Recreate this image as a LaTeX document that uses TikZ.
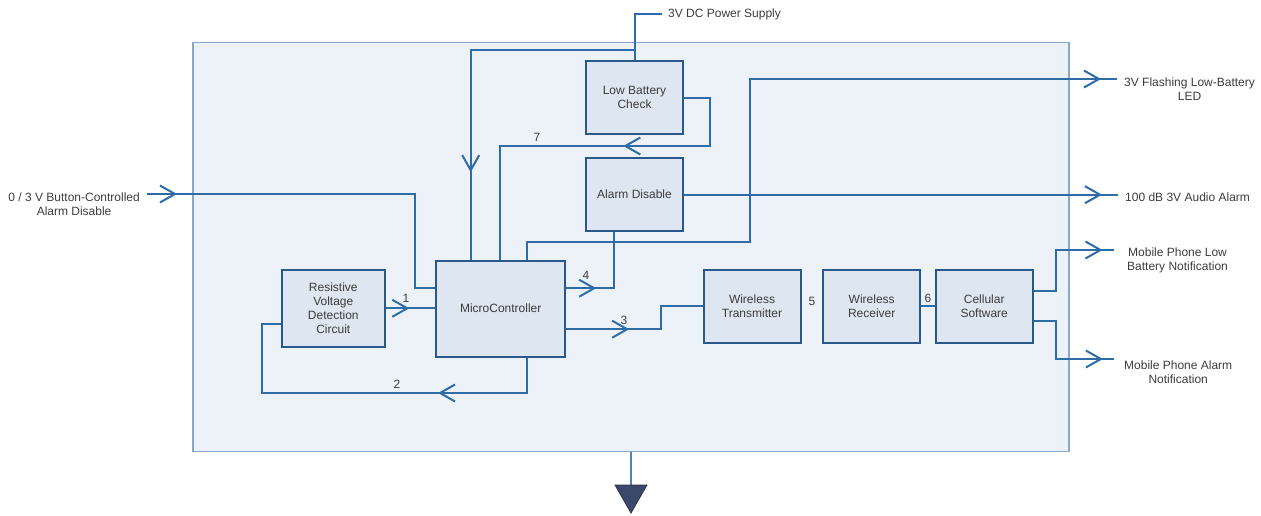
\documentclass[tikz,border=0pt]{standalone}
\usepackage{fontspec}
\setmainfont{Liberation Sans}
\usetikzlibrary{arrows.meta,decorations.markings}
\definecolor{wireblue}{RGB}{46,108,165}
\definecolor{blkfill}{RGB}{221,230,241}
\definecolor{blkline}{RGB}{42,88,138}
\definecolor{sysfill}{RGB}{237,242,249}
\definecolor{sysline}{RGB}{135,168,204}
\definecolor{gndline}{RGB}{80,130,180}
\definecolor{gndfill}{RGB}{58,72,108}
\definecolor{txtgrey}{RGB}{60,60,60}

\begin{document}
\begin{tikzpicture}[x=1pt,y=-1pt,
   every node/.style={font=\fontsize{12}{14}\selectfont,text=txtgrey},
   sysbox/.style={draw=sysline,fill=sysfill,line width=1.3pt,
      minimum width=876pt,minimum height=409pt,inner sep=0pt},
   blk/.style={draw=blkline,fill=blkfill,line width=2pt,align=center,
      minimum width=97pt,minimum height=73pt,inner sep=2pt},
   lbl/.style={align=center,inner sep=1pt},
   num/.style={inner sep=0pt},
   wire/.style={wireblue,line width=2pt},
   midarr/.style={postaction={decorate},decoration={markings,
      mark=at position #1 with {\arrow{Straight Barb[length=15pt,width=17pt,line width=2pt]}}}}]
\useasboundingbox (0,0) rectangle (1261,515);

\node[sysbox] (sys) at (631,246.8) {};

\node[blk] (lbc) at (634.5,97.7) {Low Battery\\Check};
\node[blk] (ad) at (634.5,194.7) {Alarm Disable};
\node[blk,minimum width=129pt,minimum height=96pt] (mc) at (500.7,308.7) {MicroController};
\node[blk,minimum width=103pt,minimum height=77pt] (rvdc) at (333.3,308.3) {Resistive\\Voltage\\Detection\\Circuit};
\node[blk] (wt) at (752,306.2) {Wireless\\Transmitter};
\node[blk] (wr) at (871.7,306.2) {Wireless\\Receiver};
\node[blk] (cs) at (984.2,306.2) {Cellular\\Software};

\coordinate (tap) at (634.5,50);
\coordinate (k7) at (500,146);
\coordinate (kled) at (750,242);
\coordinate (ledend) at (1117,79);
\coordinate (btnend) at (147,194);
\coordinate (kbtn) at (415,194);
\coordinate (k2) at (262,393);
\coordinate (mlowend) at (1114,250);
\coordinate (malmend) at (1114,359);
\coordinate (gnd) at (631,485);

\node[lbl,anchor=west] (psu) at (667,14) {3V DC Power Supply};
\node[lbl,anchor=north west] (led) at ([xshift=6pt,yshift=2pt]ledend) {3V Flashing Low-Battery\\LED};
\node[lbl,anchor=west] (alarm) at (1124,197.5) {100 dB 3V Audio Alarm};
\node[lbl,anchor=north east] (btn) at (141,192) {0 / 3 V Button-Controlled\\Alarm Disable};
\node[lbl,anchor=north west] (mlow) at ([xshift=12pt,yshift=3pt]mlowend) {Mobile Phone Low\\Battery Notification};
\node[lbl,anchor=north west] (malm) at ([xshift=9pt,yshift=-1pt]malmend) {Mobile Phone Alarm\\Notification};

\draw[wire] ([xshift=-5pt]psu.west) -| (lbc.north);
\draw[wire,midarr=286pt] (tap) -| ([xshift=-30pt]mc.north);
\draw[wire,midarr=161pt] (lbc.east) -- ++(26,0) |- (k7) -- (mc.north -| k7);
\draw[wire,midarr=418pt] (ad.east) -- ([xshift=-6pt]ad.east -| alarm.west);
\draw[wire,midarr=755pt] ([xshift=26pt]mc.north) |- (kled) |- (ledend);
\draw[wire,midarr=30pt] ([yshift=20.5pt]mc.east) -| ([xshift=-21pt]ad.south);
\draw[wire,midarr=30pt] (btnend) -- (kbtn) |- ([yshift=21pt]mc.west);
\draw[wire,midarr=23.5pt] (rvdc.east) -- (mc.west |- rvdc.east);
\draw[wire,midarr=124pt] ([xshift=26pt]mc.south) |- (k2) |- ([yshift=-16pt]rvdc.west);
\draw[wire,midarr=63pt] ([yshift=-20.5pt]mc.east) -- ++(95,0) |- (wt.west);
\draw[wire] (wr.east) -- (cs.west);
\draw[wire,midarr=110pt] ([yshift=15pt]cs.east) -- ++(22,0) |- (mlowend);
\draw[wire,midarr=107pt] ([yshift=-15pt]cs.east) -- ++(22,0) |- (malmend);

\node[num] (n1) at (406,298) {1};
\node[num] (n2) at (397,384) {2};
\node[num] (n3) at (624,320) {3};
\node[num] (n4) at (586,275) {4};
\node[num] (n5) at (812,301) {5};
\node[num] (n6) at (928,298) {6};
\node[num] (n7) at (537,137) {7};

\draw[gndline,line width=1.6pt] (sys.south -| gnd) -- (gnd);
\filldraw[fill=gndfill,draw=gndfill!70!black,line width=0.8pt] (gnd) ++(-16,0) -- ++(32,0) -- ++(-16,28) -- cycle;
\end{tikzpicture}
\end{document}
